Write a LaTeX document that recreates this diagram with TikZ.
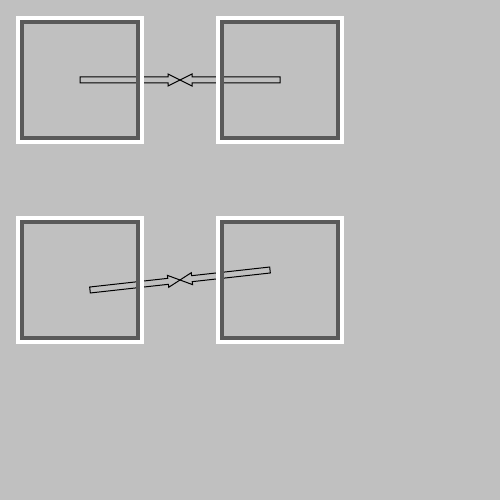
\documentclass[tikz,border=0pt]{standalone}
\usetikzlibrary{calc}
\definecolor{bg}{RGB}{192,192,192}
\definecolor{framedark}{RGB}{90,90,90}
\tikzset{
  outerframe/.style={draw=white, line width=4pt},
  innerframe/.style={draw=framedark, line width=4pt},
  arrowoutline/.style={draw=black, line width=1pt, line join=miter},
}
\newcommand{\hollowarrow}[3]{% start, angle, length
  \draw[arrowoutline, shift={#1}, rotate=#2]
    (0,-3) -- ({#3-12},-3) -- ({#3-12},-6) -- (#3,0) -- ({#3-12},6) -- ({#3-12},3) -- (0,3) -- cycle;
}
\begin{document}
\begin{tikzpicture}[x=1pt,y=-1pt]
  \fill[bg] (0,0) rectangle (500,500);
  \useasboundingbox (0,0) rectangle (500,500);
  % named points
  \coordinate (a1) at (80,80);
  \coordinate (b1) at (280,80);
  \coordinate (m1) at (180,80);
  \coordinate (a2) at (90,290);
  \coordinate (b2) at (270,270);
  \coordinate (m2) at (180,280);
  % arrows (under the frames)
  \hollowarrow{(a1)}{0}{100}
  \hollowarrow{(b1)}{180}{100}
  \hollowarrow{(a2)}{6.34}{90.55}
  \hollowarrow{(b2)}{186.34}{90.55}
  % squares
  \foreach \x/\y in {0/0,200/0,0/200,200/200}{
    \draw[outerframe] (18+\x,18+\y) rectangle (142+\x,142+\y);
    \draw[innerframe] (22+\x,22+\y) rectangle (138+\x,138+\y);
  }
\end{tikzpicture}
\end{document}
